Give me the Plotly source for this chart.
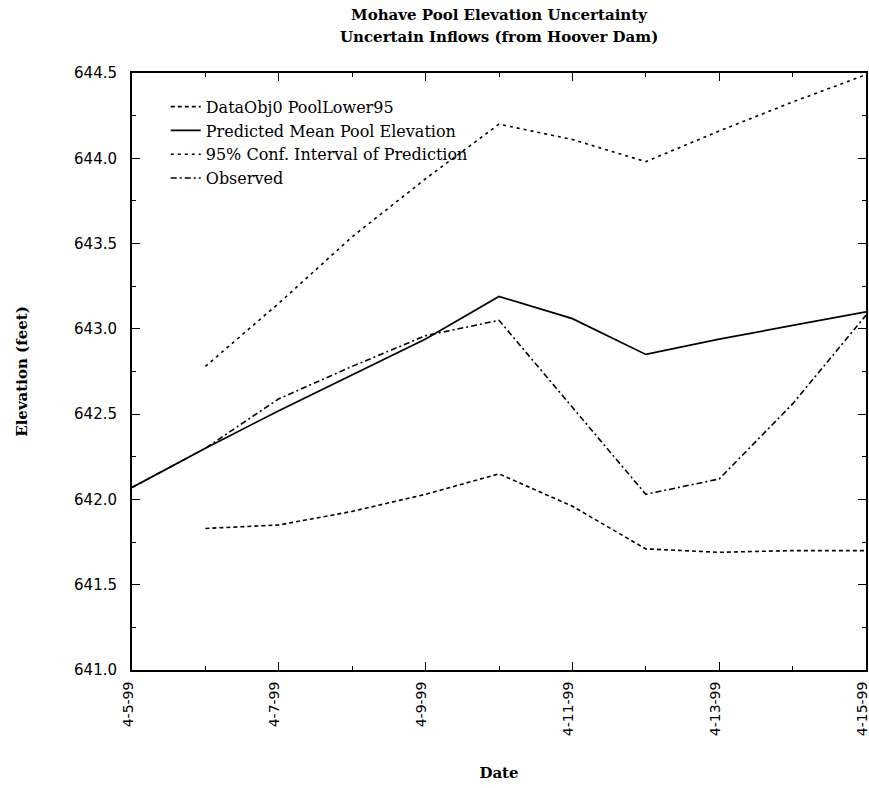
import plotly.graph_objects as go

dates = ["1999-04-05", "1999-04-06", "1999-04-07", "1999-04-08", "1999-04-09", "1999-04-10",
         "1999-04-11", "1999-04-12", "1999-04-13", "1999-04-14", "1999-04-15"]
lower95 = [None, 641.83, 641.85, 641.93, 642.03, 642.15, 641.96, 641.71, 641.69, 641.70, 641.70]
mean_pred = [642.07, 642.30, 642.52, 642.73, 642.94, 643.19, 643.06, 642.85, 642.94, 643.02, 643.10]
upper95 = [None, 642.78, 643.15, 643.54, 643.88, 644.20, 644.11, 643.98, 644.16, 644.33, 644.49]
observed = [642.07, 642.30, 642.59, 642.78, 642.96, 643.05, 642.54, 642.03, 642.12, 642.56, 643.08]

x_tick_vals = ["1999-04-05", "1999-04-07", "1999-04-09", "1999-04-11", "1999-04-13", "1999-04-15"]
x_tick_text = ["4-5-99", "4-7-99", "4-9-99", "4-11-99", "4-13-99", "4-15-99"]

names = ["DataObj0 PoolLower95", "Predicted Mean Pool Elevation",
         "95% Conf. Interval of Prediction", "Observed"]
title_lines = ["Mohave Pool Elevation Uncertainty", "Uncertain Inflows (from Hoover Dam)"]

serif = "DejaVu Serif, Liberation Serif, serif"
sans = "DejaVu Sans, Arial, sans-serif"

fig = go.Figure()
fig.add_trace(go.Scatter(x=dates, y=lower95, mode="lines", name=names[0],
                         line=dict(color="black", width=1.6, dash="4px,3px")))
fig.add_trace(go.Scatter(x=dates, y=mean_pred, mode="lines", name=names[1],
                         line=dict(color="black", width=1.7)))
fig.add_trace(go.Scatter(x=dates, y=upper95, mode="lines", name=names[2],
                         line=dict(color="black", width=1.6, dash="3px,4px")))
fig.add_trace(go.Scatter(x=dates, y=observed, mode="lines", name=names[3],
                         line=dict(color="black", width=1.6, dash="6px,3px,2px,3px")))

fig.update_layout(
    width=869, height=788,
    margin=dict(l=132, r=3, t=73, b=118),
    paper_bgcolor="white", plot_bgcolor="white",
    title=dict(text=title_lines[0],
               xref="paper", x=0.5, xanchor="center", yref="container", y=1 - 15 / 788, yanchor="middle",
               font=dict(family=serif, size=15, color="black", weight="bold")),
    legend=dict(x=0.046, y=0.972, xanchor="left", yanchor="top",
                bgcolor="rgba(0,0,0,0)", borderwidth=0,
                font=dict(family=serif, size=16, color="black"),
                itemwidth=30, tracegroupgap=0),
    showlegend=True,
)
fig.add_annotation(text=title_lines[1], xref="paper", yref="paper", x=0.5, y=(670 - 37) / 597,
                   xanchor="center", yanchor="middle", showarrow=False,
                   font=dict(family=serif, size=15, color="black", weight="bold"))

fig.update_xaxes(
    type="date", range=["1999-04-05", "1999-04-15"],
    tickmode="array", tickvals=x_tick_vals, ticktext=x_tick_text,
    tickangle=-90, ticks="inside", ticklen=8, tickwidth=1, tickcolor="black",
    minor=dict(dtick=86400000, tick0="1999-04-05", ticks="inside", ticklen=4, tickcolor="black"),
    showline=True, linecolor="black", linewidth=2, mirror="ticks",
    showgrid=False, zeroline=False, automargin=False,
    ticklabeloverflow="allow", ticklabelshift=-4,
    tickfont=dict(family=sans, size=14, color="black"),
    ticklabelstandoff=4,
    title=dict(text="Date", standoff=32, font=dict(family=serif, size=15, color="black", weight="bold")),
)
fig.update_yaxes(
    range=[641.0, 644.5], tick0=641.0, dtick=0.5, tickformat=".1f",
    ticks="inside", ticklen=8, tickwidth=1, tickcolor="black",
    minor=dict(dtick=0.25, ticks="inside", ticklen=4, tickcolor="black"),
    showline=True, linecolor="black", linewidth=2, mirror="ticks",
    showgrid=False, zeroline=False, automargin=False,
    ticklabeloverflow="allow",
    tickfont=dict(family=sans, size=15, color="black"),
    ticklabelstandoff=10,
    title=dict(text="Elevation (feet)", standoff=43, font=dict(family=serif, size=15, color="black", weight="bold")),
)

fig.write_html("out.html", config={"displayModeBar": False},
               post_script="document.body.style.margin='0';document.body.style.overflow='hidden';")
